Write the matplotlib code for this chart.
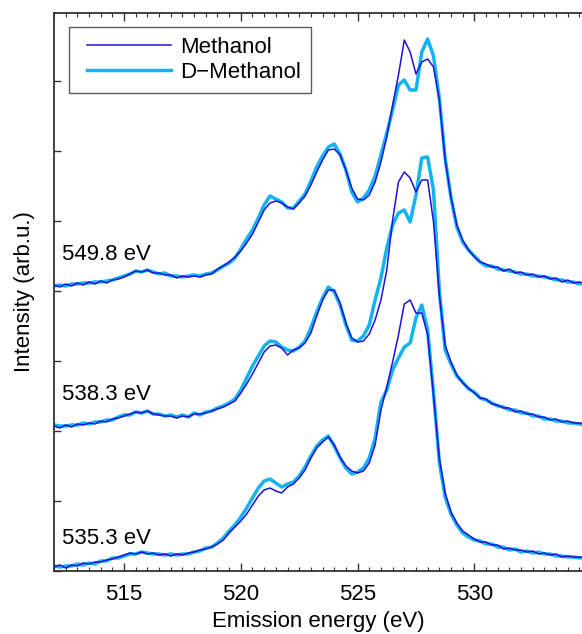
import numpy as np
import matplotlib
matplotlib.use("Agg")
import matplotlib.pyplot as plt
from matplotlib.ticker import MultipleLocator
from matplotlib.lines import Line2D
from matplotlib.legend_handler import HandlerLine2D

plt.rcParams['font.family'] = ['Liberation Sans', 'DejaVu Sans']

# Emission energy grid (eV), 512.00 ... 534.75 in 0.25 eV steps
energy = np.round(np.arange(512.0, 534.76, 0.25), 2)

# --- 549.8 eV excitation (top) ---
meth_549 = [286, 284, 287, 285, 288, 286, 289, 287, 290, 288, 291, 292,
            294, 297, 300, 299, 301, 298, 298, 296, 296, 293, 295, 294,
            295, 294, 296, 297, 302, 305, 309, 314, 320, 328, 337, 349,
            361, 368, 370, 368, 364, 362, 368, 375, 386, 399, 411, 421,
            422, 416, 401, 383, 372, 371, 376, 389, 409, 434, 466, 496,
            531, 519, 497, 509, 512, 504, 471, 411, 374, 346, 331, 321,
            314, 309, 307, 304, 304, 300, 302, 298, 299, 296, 297, 294,
            295, 292, 293, 289, 291, 288, 289, 287]
dmeth_549 = [285, 286, 285, 287, 287, 288, 288, 289, 289, 290, 291, 293,
             295, 297, 300, 299, 301, 299, 297, 298, 295, 295, 294, 295,
             296, 295, 297, 298, 301, 305, 308, 313, 322, 332, 341, 353,
             366, 375, 372, 369, 363, 363, 370, 377, 390, 404, 415, 424,
             427, 417, 401, 379, 369, 373, 381, 395, 416, 438, 461, 486,
             491, 481, 481, 519, 532, 515, 473, 413, 373, 344, 329, 321,
             315, 309, 305, 305, 302, 301, 300, 299, 297, 297, 295, 295,
             294, 293, 291, 291, 289, 289, 287, 288]

# --- 538.3 eV excitation (middle) ---
meth_538 = [145, 143, 146, 144, 147, 146, 148, 147, 150, 149, 152, 153,
            155, 157, 159, 158, 160, 157, 156, 155, 155, 153, 155, 154,
            157, 157, 158, 160, 162, 164, 167, 170, 178, 187, 197, 208,
            219, 225, 226, 223, 216, 221, 223, 228, 238, 255, 271, 281,
            281, 268, 248, 233, 229, 230, 237, 251, 271, 301, 351, 389,
            399, 393, 379, 391, 391, 349, 276, 226, 209, 196, 188, 183,
            178, 173, 172, 167, 166, 163, 163, 159, 160, 157, 157, 154,
            154, 151, 152, 149, 150, 148, 148, 147]
dmeth_538 = [146, 145, 145, 146, 146, 148, 147, 149, 149, 151, 151, 154,
             156, 156, 159, 158, 160, 157, 157, 155, 156, 154, 156, 154,
             158, 156, 159, 160, 163, 165, 168, 172, 181, 193, 205, 215,
             225, 230, 229, 224, 221, 220, 224, 230, 243, 259, 273, 284,
             279, 266, 246, 231, 230, 235, 246, 271, 293, 323, 346, 358,
             361, 349, 376, 413, 414, 381, 281, 221, 207, 195, 189, 182,
             179, 173, 171, 168, 165, 164, 161, 161, 158, 158, 155, 155,
             152, 152, 150, 150, 148, 148, 147, 146]

# --- 535.3 eV excitation (bottom) ---
meth_535 = [4, 6, 3, 6, 5, 8, 7, 9, 9, 11, 12, 14,
            16, 18, 17, 19, 17, 18, 16, 17, 15, 17, 16, 18,
            19, 21, 22, 24, 27, 31, 38, 44, 50, 57, 66, 75,
            81, 83, 80, 78, 84, 87, 93, 101, 113, 123, 129, 134,
            126, 114, 105, 100, 98, 100, 108, 126, 161, 184, 209, 236,
            267, 271, 258, 258, 236, 176, 113, 78, 59, 48, 40, 36,
            32, 29, 29, 26, 26, 22, 23, 21, 21, 19, 20, 17,
            18, 16, 17, 14, 15, 14, 14, 13]
dmeth_535 = [5, 4, 5, 5, 7, 6, 8, 7, 10, 10, 13, 13,
             15, 17, 17, 19, 18, 17, 17, 16, 17, 16, 17, 17,
             19, 20, 23, 24, 28, 33, 40, 46, 54, 63, 73, 83,
             90, 92, 88, 84, 87, 89, 95, 104, 115, 125, 131, 135,
             125, 113, 103, 97, 99, 103, 113, 133, 169, 181, 201, 213,
             224, 228, 253, 266, 241, 179, 109, 74, 57, 46, 38, 34,
             31, 30, 27, 27, 24, 24, 21, 22, 19, 20, 18, 19,
             17, 17, 15, 15, 14, 14, 13, 14]

excitation_labels = ["549.8 eV", "538.3 eV", "535.3 eV"]
label_levels = [317, 176, 33]

meth_color = '#2010d8'
dmeth_color = '#12b4f0'

fig = plt.figure(figsize=(5.82, 6.34), dpi=100)
ax = fig.add_axes([54/582, 1-571/634, 528/582, 558/634])

for i, (m, d) in enumerate([(meth_549, dmeth_549), (meth_538, dmeth_538), (meth_535, dmeth_535)]):
    ax.plot(energy, d, color=dmeth_color, lw=2.5, zorder=2,
            label='D\u2212Methanol' if i == 0 else None)
    ax.plot(energy, m, color=meth_color, lw=1.1, zorder=3,
            label='Methanol' if i == 0 else None)

for lab, lev in zip(excitation_labels, label_levels):
    ax.text(512.35, lev, lab, fontsize=16, va='center', ha='left')

ax.set_xlim(512, 534.61)
ax.set_ylim(0, 558)
ax.xaxis.set_major_locator(MultipleLocator(5))
ax.xaxis.set_minor_locator(MultipleLocator(0.5))
ax.yaxis.set_major_locator(MultipleLocator(70))
ax.set_yticklabels([])
ax.tick_params(axis='x', which='both', direction='in', top=True, labelsize=16,
               color='#333333', pad=9)
ax.tick_params(axis='x', which='major', length=6, width=1)
ax.tick_params(axis='x', which='minor', length=3, width=0.8)
ax.tick_params(axis='y', which='major', direction='in', length=5, width=1,
               color='#333333', right=False)
for s in ['left', 'bottom', 'top']:
    ax.spines[s].set_color('#333333')
    ax.spines[s].set_linewidth(1.3)
ax.spines['right'].set_visible(False)

ax.set_xlabel('Emission energy (eV)', fontsize=16, labelpad=5)
ax.set_ylabel('Intensity (arb.u.)', fontsize=16, labelpad=10)

h, l = ax.get_legend_handles_labels()
order = [1, 0]
leg = ax.legend([h[k] for k in order], [l[k] for k in order], loc='upper left',
                bbox_to_anchor=(15/528, 0.975), fontsize=16, handlelength=4.15,
                handler_map={Line2D: HandlerLine2D(xpad=0.36)},
                frameon=True, fancybox=False, edgecolor='#333333',
                borderpad=0.45, labelspacing=0.18, handletextpad=0.42,
                borderaxespad=0)
leg.get_frame().set_linewidth(1.0)

fig.savefig('out.png', dpi=100)
